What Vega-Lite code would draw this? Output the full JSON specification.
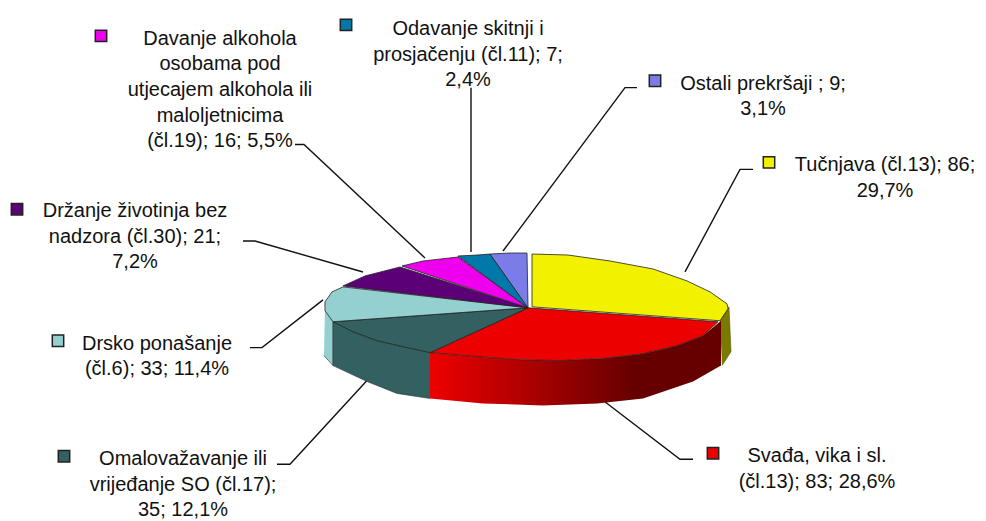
{"$schema":"https://vega.github.io/schema/vega-lite/v6.json","width":986,"height":521,"autosize":{"type":"fit","contains":"padding"},"padding":0,"background":"white","view":{"stroke":null},
"datasets":{
"outline":[
{"s":"Tučnjava","p":"olive","o":1,"x":720,"y":322},{"s":"Tučnjava","p":"olive","o":2,"x":729,"y":308},{"s":"Tučnjava","p":"olive","o":3,"x":731,"y":353},{"s":"Tučnjava","p":"olive","o":4,"x":722,"y":367},
{"s":"Drsko","p":"side","o":1,"x":325,"y":306},{"s":"Drsko","p":"side","o":2,"x":333,"y":323},{"s":"Drsko","p":"side","o":3,"x":333,"y":367},{"s":"Drsko","p":"side","o":4,"x":324,"y":357},
{"s":"Omalovažavanje","p":"side","o":1,"x":430,"y":354},{"s":"Omalovažavanje","p":"side","o":2,"x":403,"y":348},{"s":"Omalovažavanje","p":"side","o":3,"x":377,"y":342},{"s":"Omalovažavanje","p":"side","o":4,"x":353,"y":333},{"s":"Omalovažavanje","p":"side","o":5,"x":333,"y":323},{"s":"Omalovažavanje","p":"side","o":6,"x":333,"y":367},{"s":"Omalovažavanje","p":"side","o":7,"x":367,"y":383},{"s":"Omalovažavanje","p":"side","o":8,"x":397,"y":395},{"s":"Omalovažavanje","p":"side","o":9,"x":430,"y":400},
{"s":"Svađa","p":"front","o":1,"x":430,"y":354},{"s":"Svađa","p":"front","o":2,"x":477,"y":358},{"s":"Svađa","p":"front","o":3,"x":517,"y":361},{"s":"Svađa","p":"front","o":4,"x":560,"y":362},{"s":"Svađa","p":"front","o":5,"x":603,"y":360},{"s":"Svađa","p":"front","o":6,"x":643,"y":355},{"s":"Svađa","p":"front","o":7,"x":677,"y":347},{"s":"Svađa","p":"front","o":8,"x":703,"y":337},{"s":"Svađa","p":"front","o":9,"x":721,"y":322},{"s":"Svađa","p":"front","o":10,"x":721,"y":367},{"s":"Svađa","p":"front","o":11,"x":693,"y":383},{"s":"Svađa","p":"front","o":12,"x":643,"y":400},{"s":"Svađa","p":"front","o":13,"x":597,"y":405},{"s":"Svađa","p":"front","o":14,"x":543,"y":407},{"s":"Svađa","p":"front","o":15,"x":483,"y":405},{"s":"Svađa","p":"front","o":16,"x":430,"y":400},
{"s":"Tučnjava","p":"top","o":1,"x":532,"y":308},{"s":"Tučnjava","p":"top","o":2,"x":532,"y":255},{"s":"Tučnjava","p":"top","o":3,"x":568,"y":256},{"s":"Tučnjava","p":"top","o":4,"x":610,"y":262},{"s":"Tučnjava","p":"top","o":5,"x":653,"y":270},{"s":"Tučnjava","p":"top","o":6,"x":687,"y":282},{"s":"Tučnjava","p":"top","o":7,"x":710,"y":293},{"s":"Tučnjava","p":"top","o":8,"x":727,"y":305},{"s":"Tučnjava","p":"top","o":9,"x":728,"y":310},{"s":"Tučnjava","p":"top","o":10,"x":720,"y":322},{"s":"Tučnjava","p":"top","o":11,"x":532,"y":308},
{"s":"Svađa","p":"top","o":1,"x":528,"y":309},{"s":"Svađa","p":"top","o":2,"x":718,"y":323},{"s":"Svađa","p":"top","o":3,"x":703,"y":337},{"s":"Svađa","p":"top","o":4,"x":677,"y":347},{"s":"Svađa","p":"top","o":5,"x":643,"y":355},{"s":"Svađa","p":"top","o":6,"x":603,"y":360},{"s":"Svađa","p":"top","o":7,"x":560,"y":362},{"s":"Svađa","p":"top","o":8,"x":517,"y":361},{"s":"Svađa","p":"top","o":9,"x":477,"y":358},{"s":"Svađa","p":"top","o":10,"x":430,"y":354},{"s":"Svađa","p":"top","o":11,"x":528,"y":309},
{"s":"Omalovažavanje","p":"top","o":1,"x":528,"y":309},{"s":"Omalovažavanje","p":"top","o":2,"x":430,"y":354},{"s":"Omalovažavanje","p":"top","o":3,"x":403,"y":348},{"s":"Omalovažavanje","p":"top","o":4,"x":377,"y":342},{"s":"Omalovažavanje","p":"top","o":5,"x":353,"y":333},{"s":"Omalovažavanje","p":"top","o":6,"x":333,"y":323},{"s":"Omalovažavanje","p":"top","o":7,"x":528,"y":309},
{"s":"Drsko","p":"top","o":1,"x":528,"y":309},{"s":"Drsko","p":"top","o":2,"x":333,"y":323},{"s":"Drsko","p":"top","o":3,"x":325,"y":312},{"s":"Drsko","p":"top","o":4,"x":325,"y":303},{"s":"Drsko","p":"top","o":5,"x":332,"y":293},{"s":"Drsko","p":"top","o":6,"x":343,"y":288},{"s":"Drsko","p":"top","o":7,"x":528,"y":309},
{"s":"Držanje","p":"top","o":1,"x":528,"y":309},{"s":"Držanje","p":"top","o":2,"x":343,"y":287},{"s":"Držanje","p":"top","o":3,"x":365,"y":277},{"s":"Držanje","p":"top","o":4,"x":400,"y":268},{"s":"Držanje","p":"top","o":5,"x":528,"y":309},
{"s":"Davanje","p":"top","o":1,"x":528,"y":309},{"s":"Davanje","p":"top","o":2,"x":402,"y":267},{"s":"Davanje","p":"top","o":3,"x":423,"y":262},{"s":"Davanje","p":"top","o":4,"x":458,"y":258},{"s":"Davanje","p":"top","o":5,"x":528,"y":309},
{"s":"Odavanje","p":"top","o":1,"x":528,"y":309},{"s":"Odavanje","p":"top","o":2,"x":458,"y":257},{"s":"Odavanje","p":"top","o":3,"x":477,"y":256},{"s":"Odavanje","p":"top","o":4,"x":490,"y":255},{"s":"Odavanje","p":"top","o":5,"x":528,"y":309},
{"s":"Ostali","p":"top","o":1,"x":528,"y":309},{"s":"Ostali","p":"top","o":2,"x":490,"y":255},{"s":"Ostali","p":"top","o":3,"x":510,"y":254},{"s":"Ostali","p":"top","o":4,"x":527,"y":254},{"s":"Ostali","p":"top","o":5,"x":528,"y":309}
],
"leaders":[
{"s":"Ostali","o":1,"x":637,"y":88},{"s":"Ostali","o":2,"x":625,"y":88},{"s":"Ostali","o":3,"x":503,"y":252},
{"s":"Tučnjava","o":1,"x":753,"y":170},{"s":"Tučnjava","o":2,"x":740,"y":170},{"s":"Tučnjava","o":3,"x":685,"y":273},
{"s":"Svađa","o":1,"x":693,"y":461},{"s":"Svađa","o":2,"x":680,"y":461},{"s":"Svađa","o":3,"x":598,"y":398},
{"s":"Omalovažavanje","o":1,"x":277,"y":466},{"s":"Omalovažavanje","o":2,"x":290,"y":466},{"s":"Omalovažavanje","o":3,"x":367,"y":382},
{"s":"Drsko","o":1,"x":250,"y":349},{"s":"Drsko","o":2,"x":262,"y":349},{"s":"Drsko","o":3,"x":323,"y":301},
{"s":"Držanje","o":1,"x":243,"y":242},{"s":"Držanje","o":2,"x":255,"y":242},{"s":"Držanje","o":3,"x":363,"y":273},
{"s":"Davanje","o":1,"x":295,"y":145},{"s":"Davanje","o":2,"x":304,"y":145},{"s":"Davanje","o":3,"x":425,"y":259},
{"s":"Odavanje","o":1,"x":471,"y":88},{"s":"Odavanje","o":2,"x":471,"y":253}
],
"labels":[
{"s":"Tučnjava","count":86,"pct":29.7,"lines":["Tučnjava (čl.13); 86;","29,7%"],"x":885,"y":156,"kx":769,"ky":163},
{"s":"Svađa","count":83,"pct":28.6,"lines":["Svađa, vika i sl.","(čl.13); 83; 28,6%"],"x":817,"y":448,"kx":713,"ky":455},
{"s":"Omalovažavanje","count":35,"pct":12.1,"lines":["Omalovažavanje ili","vrijeđanje SO (čl.17);","35; 12,1%"],"x":183,"y":451,"kx":64,"ky":458},
{"s":"Drsko","count":33,"pct":11.4,"lines":["Drsko ponašanje","(čl.6); 33; 11,4%"],"x":157,"y":335,"kx":58,"ky":342},
{"s":"Držanje","count":21,"pct":7.2,"lines":["Držanje životinja bez","nadzora (čl.30); 21;","7,2%"],"x":135,"y":202,"kx":17,"ky":210},
{"s":"Davanje","count":16,"pct":5.5,"lines":["Davanje alkohola","osobama pod","utjecajem alkohola ili","maloljetnicima","(čl.19); 16; 5,5%"],"x":220,"y":29,"kx":101,"ky":36},
{"s":"Odavanje","count":7,"pct":2.4,"lines":["Odavanje skitnji i","prosjačenju (čl.11); 7;","2,4%"],"x":468,"y":19,"kx":346,"ky":25},
{"s":"Ostali","count":9,"pct":3.1,"lines":["Ostali prekršaji ; 9;","3,1%"],"x":763,"y":74,"kx":655,"ky":81}
]},
"layer":[
{"data":{"name":"leaders"},"mark":{"type":"line","color":"#111111","strokeWidth":1.4},"encoding":{"x":{"field":"x","type":"quantitative","scale":{"domain":[0,986],"nice":false,"zero":false},"axis":null},"y":{"field":"y","type":"quantitative","scale":{"domain":[521,0],"nice":false,"zero":false},"axis":null},"detail":{"field":"s"},"order":{"field":"o"}}},
{"data":{"name":"outline"},"transform":[{"filter":"datum.p==='olive'"}],"mark":{"type":"line","filled":true,"fill":"#7a7a00","stroke":"#555500","strokeWidth":0.6},"encoding":{"x":{"field":"x","type":"quantitative"},"y":{"field":"y","type":"quantitative"},"order":{"field":"o"}}},
{"data":{"name":"outline"},"transform":[{"filter":"datum.p==='side'"}],"mark":{"type":"line","filled":true,"stroke":"#333333","strokeWidth":0.6},"encoding":{"x":{"field":"x","type":"quantitative"},"y":{"field":"y","type":"quantitative"},"detail":{"field":"s"},"order":{"field":"o"},"fill":{"field":"s","type":"nominal","legend":null,"scale":{"domain":["Tučnjava","Svađa","Omalovažavanje","Drsko","Držanje","Davanje","Odavanje","Ostali"],"range":["#f2f200","#ec0000","#336060","#94d0d0","#5c0078","#ee00ee","#0078aa","#7c7ce8"]}}}},
{"data":{"name":"outline"},"transform":[{"filter":"datum.p==='front'"}],"mark":{"type":"line","filled":true,"strokeWidth":0,"fill":{"gradient":"linear","x1":0,"y1":0,"x2":1,"y2":0,"stops":[{"offset":0,"color":"#ee0000"},{"offset":0.7,"color":"#660000"},{"offset":1,"color":"#660000"}]}},"encoding":{"x":{"field":"x","type":"quantitative"},"y":{"field":"y","type":"quantitative"},"order":{"field":"o"}}},
{"data":{"name":"outline"},"transform":[{"filter":"datum.p==='top'"}],"mark":{"type":"line","filled":true,"stroke":"#222222","strokeWidth":0.8},"encoding":{"x":{"field":"x","type":"quantitative"},"y":{"field":"y","type":"quantitative"},"detail":{"field":"s"},"order":{"field":"o"},"fill":{"field":"s","type":"nominal","legend":null}}},
{"data":{"name":"labels"},"mark":{"type":"point","shape":"square","filled":true,"size":130,"stroke":"#222222","strokeWidth":1.5,"opacity":1},"encoding":{"x":{"field":"kx","type":"quantitative"},"y":{"field":"ky","type":"quantitative"},"fill":{"field":"s","type":"nominal","legend":null}}},
{"data":{"name":"labels"},"mark":{"type":"text","font":"Liberation Sans","fontSize":20,"lineHeight":25.6,"align":"center","baseline":"top","color":"#111111"},"encoding":{"x":{"field":"x","type":"quantitative"},"y":{"field":"y","type":"quantitative"},"text":{"field":"lines"}}}
],
"config":{"legend":{"disable":true}}}
